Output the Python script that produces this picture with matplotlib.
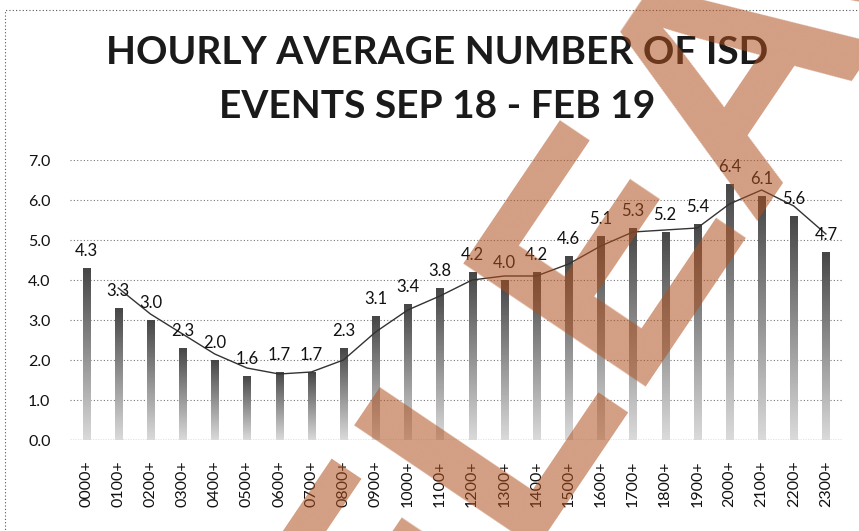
import numpy as np
import matplotlib
matplotlib.use("Agg")
from matplotlib import pyplot as plt
from matplotlib.patches import Rectangle

hours = ["0000+", "0100+", "0200+", "0300+", "0400+", "0500+", "0600+", "0700+",
         "0800+", "0900+", "1000+", "1100+", "1200+", "1300+", "1400+", "1500+",
         "1600+", "1700+", "1800+", "1900+", "2000+", "2100+", "2200+", "2300+"]
events = [4.3, 3.3, 3.0, 2.3, 2.0, 1.6, 1.7, 1.7, 2.3, 3.1, 3.4, 3.8,
          4.2, 4.0, 4.2, 4.6, 5.1, 5.3, 5.2, 5.4, 6.4, 6.1, 5.6, 4.7]
yticks = [0, 1, 2, 3, 4, 5, 6, 7]

plt.rcParams['font.family'] = ['Lato', 'DejaVu Sans']

fig = plt.figure(figsize=(8.59, 5.31), dpi=100)
ax = fig.add_axes([70 / 859, 1 - 440 / 531, 772 / 859, 280 / 531])

x = np.arange(len(events))
vals = np.array(events)

# gradient bars: dark at the top, fading to light grey at the bottom
grad = np.linspace(0.28, 0.85, 64).reshape(-1, 1)
bw = 0.22
for xi, v in zip(x, vals):
    ax.imshow(grad, cmap="gray", vmin=0, vmax=1, aspect="auto",
              extent=(xi - bw / 2, xi + bw / 2, 0, v), origin="upper",
              interpolation="bilinear", zorder=2)

# two-period moving average trendline
ma = np.convolve(vals, [0.5, 0.5], mode="valid")
ax.plot(x[1:], ma, color="#333333", lw=1.0, zorder=3)

for xi, v in zip(x, vals):
    ax.annotate(f"{v:.1f}", (xi, v), xytext=(0, 12), textcoords="offset points",
                ha="center", va="center", fontsize=12, color="#111111", zorder=4)

ax.set_xlim(-0.5, len(events) - 0.5)
ax.set_ylim(0, 7)
ax.set_yticks(yticks)
ax.set_yticklabels([f"{t:.1f}" for t in yticks])
ax.set_xticks(x)
ax.set_xticklabels(hours, rotation=90, va="top")
ax.tick_params(axis="both", length=0, labelsize=11.5, colors="#111111")
ax.tick_params(axis="x", pad=15)
ax.tick_params(axis="y", pad=14)
for s in ax.spines.values():
    s.set_visible(False)
for t in yticks[1:]:
    ax.axhline(t, color="#777777", lw=0.8, ls=(0, (1, 2)), zorder=1)
ax.axhline(0, color="#333333", lw=0.9, ls=(0, (1, 1)), zorder=1)

fig.text(437 / 859, 1 - 53 / 531, "HOURLY AVERAGE NUMBER OF ISD", ha="center",
         va="center", fontsize=28, fontweight="bold", color="#1a1a1a")
fig.text(437 / 859, 1 - 107 / 531, "EVENTS SEP 18 - FEB 19", ha="center",
         va="center", fontsize=28, fontweight="bold", color="#1a1a1a")

# dotted chart border
fig.patches.append(Rectangle((5 / 859, -0.02), 1.1, 1 - 10 / 531 + 0.02,
                             transform=fig.transFigure, fill=False,
                             ls=(0, (1, 2)), lw=0.8, ec="#555555"))

# watermark
fig.text(268 / 859, 1 - 915 / 531, "RELEASE", rotation=56, rotation_mode="anchor",
         ha="left", va="baseline", fontsize=230, fontweight="bold",
         family="Liberation Sans", color="#af501e", alpha=0.55, zorder=10)

fig.savefig("out.png", dpi=100)
